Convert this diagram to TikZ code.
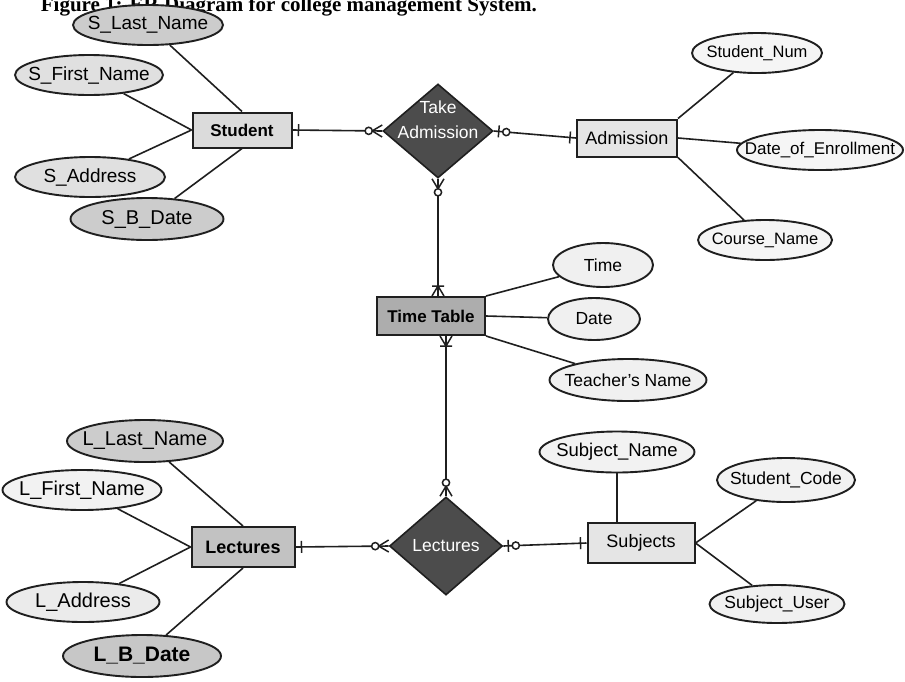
\documentclass[tikz,border=0pt]{standalone}
\usepackage{fontspec}
\setmainfont{Liberation Sans}
\newfontfamily\capfont{Liberation Serif}
\usetikzlibrary{shapes.geometric,decorations.markings,calc}

\tikzset{
  x=1pt, y=-1pt,
  ink/.style={draw=black!88},
  link/.style={ink, line width=1.6pt},
  attr/.style={ellipse, ink, line width=1.9pt, fill=#1, inner sep=0pt},
  attr/.default=black!5,
  entity/.style={rectangle, ink, line width=2pt, fill=#1, inner sep=0pt,
    font=\fontsize{18}{20}\selectfont},
  entity/.default=black!12,
  rel/.style={diamond, ink, line width=1.6pt, fill=black!70, inner sep=0pt},
  every label/.style={font=\fontsize{17.5}{19}\selectfont, inner sep=0pt},
  reltext/.style={text=white, font=\fontsize{17.5}{25}\selectfont, align=center},
  notation/.style={line width=1.5pt, draw=black!88},
  % cardinality marks, drawn along a connector
  barS/.style={postaction={decorate, decoration={markings,
      mark=at position 6pt with {\draw[notation] (0,-6pt) -- (0,6pt);}}}},
  barE/.style={postaction={decorate, decoration={markings,
      mark=at position -6pt with {\draw[notation] (0,-6pt) -- (0,6pt);}}}},
  zeroOneS/.style={postaction={decorate, decoration={markings,
      mark=at position 0 with {\draw[notation] (5pt,-6pt) -- (5pt,6pt);
        \draw[notation, fill=white] (12.5pt,0) circle (3.6pt);}}}},
  zeroManyS/.style={postaction={decorate, decoration={markings,
      mark=at position 0 with {\draw[notation] (10pt,0) -- (0,6pt) (10pt,0) -- (0,-6pt);
        \draw[notation, fill=white] (13.5pt,0) circle (3.6pt);}}}},
  zeroManyE/.style={postaction={decorate, decoration={markings,
      mark=at position 1 with {\draw[notation] (-10pt,0) -- (0,6pt) (-10pt,0) -- (0,-6pt);
        \draw[notation, fill=white] (-13.5pt,0) circle (3.6pt);}}}},
  oneManyS/.style={postaction={decorate, decoration={markings,
      mark=at position 0 with {\draw[notation] (10pt,0) -- (0,6pt) (10pt,0) -- (0,-6pt)
        (10pt,-6pt) -- (10pt,6pt);}}}},
  oneManyE/.style={postaction={decorate, decoration={markings,
      mark=at position 1 with {\draw[notation] (-10pt,0) -- (0,6pt) (-10pt,0) -- (0,-6pt)
        (-10pt,-6pt) -- (-10pt,6pt);}}}},
}

\begin{document}
\begin{tikzpicture}
\useasboundingbox[fill=white] (0,0) rectangle (905,681);

% caption, cut off by the top edge of the page
\node[anchor=base east, inner sep=0pt,
      font=\capfont\bfseries\fontsize{21}{23}\selectfont] (caption) at (537,11)
  {Figure 1: ER Diagram for college management System.};

% ---------- Student ----------
\node[entity=black!14, minimum width=99pt, minimum height=35pt, font=\bfseries\fontsize{17}{19}\selectfont]
  (student) at (242,130) {Student};
\node[attr=black!20, minimum width=150pt, minimum height=40pt,
      label={[font=\fontsize{19}{21}\selectfont]center:S\_Last\_Name}] (slast) at (148,25) {};
\node[attr=black!12, minimum width=148pt, minimum height=40pt,
      label={[font=\fontsize{19}{21}\selectfont]center:S\_First\_Name}] (sfirst) at (89,75) {};
\node[attr=black!12, minimum width=150pt, minimum height=40pt,
      label={[font=\fontsize{19}{21}\selectfont]center:S\_Address}] (saddr) at (90,177) {};
\node[attr=black!20, minimum width=153pt, minimum height=42pt,
      label={[font=\fontsize{20}{22}\selectfont]center:S\_B\_Date}] (sbdate) at (147,219) {};

\draw[link] (slast) -- (student.north);
\draw[link] (sfirst) -- (student.west);
\draw[link] (saddr) -- (student.west);
\draw[link] (sbdate) -- (student.south);

% ---------- Take Admission ----------
\node[rel, minimum width=110pt, minimum height=94pt] (take) at (438,131) {};
\node[reltext] (taketext) at ($(take)+(0,-11)$) {Take\\Admission};

% ---------- Admission ----------
\node[entity=black!10, minimum width=100pt, minimum height=37pt] (admission) at (627,138) {Admission};
\node[attr=black!4, minimum width=130pt, minimum height=40pt,
      label={[font=\fontsize{16.5}{18}\selectfont]center:Student\_Num}] (snum) at (757,53) {};
\node[attr=black!4, minimum width=166pt, minimum height=40pt,
      label={[font=\fontsize{17}{19}\selectfont]center:Date\_of\_Enrollment}] (doe) at (820,150) {};
\node[attr=black!4, minimum width=134pt, minimum height=40pt,
      label={[font=\fontsize{16.5}{18}\selectfont]center:Course\_Name}] (cname) at (765,240) {};

\draw[link] (admission.north east) -- (snum);
\draw[link] (admission.east) -- (doe);
\draw[link] (admission.south east) -- (cname);

% ---------- Time Table ----------
\node[entity=black!32, minimum width=108pt, minimum height=38pt, font=\bfseries\fontsize{17}{19}\selectfont]
  (timetable) at (431,316) {Time Table};
\node[attr=black!6, minimum width=100pt, minimum height=44pt,
      label={center:Time}] (time) at (603,265) {};
\node[attr=black!6, minimum width=92pt, minimum height=42pt,
      label={center:Date}] (date) at (594,319) {};
\node[attr=black!6, minimum width=157pt, minimum height=42pt,
      label={center:Teacher's Name}] (tname) at (628,380) {};

\draw[link] (timetable.north east) -- (time);
\draw[link] (timetable.east) -- (date);
\draw[link] (timetable.south east) -- (tname);

% ---------- Lectures (entity) ----------
\node[entity=black!24, minimum width=103pt, minimum height=40pt, font=\bfseries\fontsize{18}{20}\selectfont]
  (lectures) at (243,547) {Lectures};
\node[attr=black!20, minimum width=156pt, minimum height=42pt,
      label={[font=\fontsize{20}{22}\selectfont]center:L\_Last\_Name}] (llast) at (145,441) {};
\node[attr=black!5, minimum width=159pt, minimum height=40pt,
      label={[font=\fontsize{20}{22}\selectfont]center:L\_First\_Name}] (lfirst) at (82,490) {};
\node[attr=black!8, minimum width=153pt, minimum height=40pt,
      label={[font=\fontsize{20}{22}\selectfont]center:L\_Address}] (laddr) at (83,602) {};
\node[attr=black!22, minimum width=158pt, minimum height=42pt,
      label={[font=\bfseries\fontsize{21}{23}\selectfont]center:L\_B\_Date}] (lbdate) at (142,656) {};

\draw[link] (llast) -- (lectures.north);
\draw[link] (lfirst) -- (lectures.west);
\draw[link] (laddr) -- (lectures.west);
\draw[link] (lbdate) -- (lectures.south);

% ---------- Lectures (relationship) ----------
\node[rel, minimum width=113pt, minimum height=98pt] (lecd) at (446,546) {};
\node[reltext] (lecdtext) at (lecd) {Lectures};

% ---------- Subjects ----------
\node[entity=black!10, minimum width=107pt, minimum height=40pt] (subjects) at (641,543) {Subjects};
\node[attr=black!5, minimum width=155pt, minimum height=41pt,
      label={[font=\fontsize{18.5}{20}\selectfont]center:Subject\_Name}] (sname) at (617,452) {};
\node[attr=black!5, minimum width=138pt, minimum height=44pt,
      label={center:Student\_Code}] (scode) at (786,480) {};
\node[attr=black!6, minimum width=135pt, minimum height=38pt,
      label={center:Subject\_User}] (suser) at (777,604) {};

\draw[link] (sname.south) -- (sname.south |- subjects.north);
\draw[link] (subjects.east) -- (scode);
\draw[link] (subjects.east) -- (suser);

% ---------- relationship connectors ----------
\draw[link, barS, zeroManyE] (student.east) -- (take.west);
\draw[link, zeroOneS, barE] (take.east) -- (admission.west);
\draw[link, zeroManyS, oneManyE] (take.south) -- (take.south |- timetable.north);
\draw[link, oneManyS, zeroManyE] (lecd.north |- timetable.south) -- (lecd.north);
\draw[link, barS, zeroManyE] (lectures.east) -- (lecd.west);
\draw[link, zeroOneS, barE] (lecd.east) -- (subjects.west);
\end{tikzpicture}
\end{document}
